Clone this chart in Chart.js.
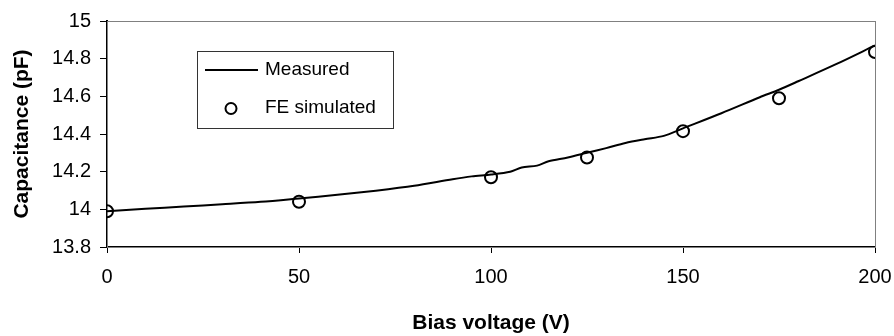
<!DOCTYPE html>
<html>
<head>
<meta charset="utf-8">
<script src="https://cdn.jsdelivr.net/npm/chart.js@4/dist/chart.umd.min.js"></script>
<style>
    html, body { margin: 0; padding: 0; background: #fff; }
    #wrap { width: 894px; height: 336px; }
</style>
</head>
<body>
<div id="wrap"><canvas id="capChart" width="894" height="336"></canvas></div>
<script>
// measured C-V curve
const measuredV = [0, 10, 20, 30, 40, 50, 60, 70, 80, 90, 95, 100, 105, 108, 112, 115, 120, 125, 130, 135, 140, 145, 150, 160, 170, 175, 180, 190, 200];
const measuredC = [13.99, 14.003, 14.015, 14.027, 14.04, 14.058, 14.077, 14.099, 14.125, 14.16, 14.175, 14.185, 14.2, 14.222, 14.232, 14.255, 14.275, 14.3, 14.325, 14.352, 14.372, 14.39, 14.43, 14.51, 14.595, 14.635, 14.68, 14.772, 14.87];

// FE simulation points
const simV = [0, 50, 100, 125, 150, 175, 200];
const simC = [13.99, 14.04, 14.17, 14.275, 14.415, 14.59, 14.835];

const seriesNames = ['Measured', 'FE simulated'];
const xTitle = 'Bias voltage (V)';
const yTitle = 'Capacitance (pF)';

const fontFamily = '"Liberation Sans", Arial, sans-serif';

// gray frame round the plot area
const frameBox = {
    id: 'frameBox',
    beforeDatasetsDraw(chart) {
        const { ctx, chartArea: a } = chart;
        ctx.save();
        ctx.strokeStyle = '#808080';
        ctx.lineWidth = 1;
        ctx.strokeRect(a.left + 0.5, a.top + 0.5, a.right - a.left, a.bottom - a.top);
        ctx.restore();
    }
};

// legend box inside the plot, like the original
const insideLegend = {
    id: 'insideLegend',
    afterDraw(chart) {
        const ctx = chart.ctx;
        ctx.save();
        ctx.fillStyle = '#fff';
        ctx.fillRect(197, 51, 196, 77);
        ctx.strokeStyle = '#333';
        ctx.lineWidth = 1;
        ctx.strokeRect(197.5, 51.5, 196, 77);

        ctx.strokeStyle = '#000';
        ctx.lineWidth = 2;
        ctx.beginPath();
        ctx.moveTo(205, 70);
        ctx.lineTo(258, 70);
        ctx.stroke();

        ctx.beginPath();
        ctx.arc(231, 108.5, 5.5, 0, Math.PI * 2);
        ctx.stroke();

        ctx.fillStyle = '#000';
        ctx.font = '19px ' + fontFamily;
        ctx.textBaseline = 'middle';
        ctx.fillText(seriesNames[0], 265, 70);
        ctx.fillText(seriesNames[1], 265, 108);
        ctx.restore();
    }
};

const fmt = v => String(Number(v.toFixed(1)));

new Chart(document.getElementById('capChart'), {
    type: 'line',
    data: {
        datasets: [{
            label: seriesNames[0],
            data: measuredV.map((v, i) => ({ x: v, y: measuredC[i] })),
            borderColor: '#000',
            borderWidth: 2,
            pointRadius: 0,
            tension: 0.3,
            fill: false
        }, {
            label: seriesNames[1],
            data: simV.map((v, i) => ({ x: v, y: simC[i] })),
            showLine: false,
            pointStyle: 'circle',
            pointRadius: 6,
            pointBorderWidth: 2,
            pointBorderColor: '#000',
            pointBackgroundColor: 'rgba(0,0,0,0)'
        }]
    },
    options: {
        responsive: false,
        animation: false,
        layout: { padding: { top: 18, right: 0, bottom: 0, left: 0 } },
        plugins: {
            legend: { display: false },
            tooltip: { enabled: false }
        },
        scales: {
            x: {
                type: 'linear',
                min: 0,
                max: 200,
                ticks: {
                    stepSize: 50,
                    color: '#000',
                    padding: 12,
                    font: { family: fontFamily, size: 20 }
                },
                grid: { drawOnChartArea: false, drawTicks: true, tickLength: 6, color: '#000' },
                border: { display: true, color: '#000', width: 2 },
                title: {
                    display: true,
                    text: xTitle,
                    color: '#000',
                    padding: { top: 2, bottom: 0 },
                    font: { family: fontFamily, size: 21, weight: 'bold' }
                },
                afterFit(scale) {
                    scale.height = 89;
                    scale.paddingLeft = 0;
                    scale.paddingRight = 19;
                }
            },
            y: {
                min: 13.8,
                max: 15,
                ticks: {
                    stepSize: 0.2,
                    color: '#000',
                    padding: 9,
                    font: { family: fontFamily, size: 20 },
                    callback: v => fmt(v)
                },
                grid: { drawOnChartArea: false, drawTicks: true, tickLength: 7, color: '#000' },
                border: { display: true, color: '#000', width: 2 },
                title: {
                    display: true,
                    text: yTitle,
                    color: '#000',
                    padding: { top: 10, bottom: 0 },
                    font: { family: fontFamily, size: 21, weight: 'bold' }
                },
                afterFit(scale) { scale.width = 107; }
            }
        }
    },
    plugins: [frameBox, insideLegend]
});
</script>
</body>
</html>
